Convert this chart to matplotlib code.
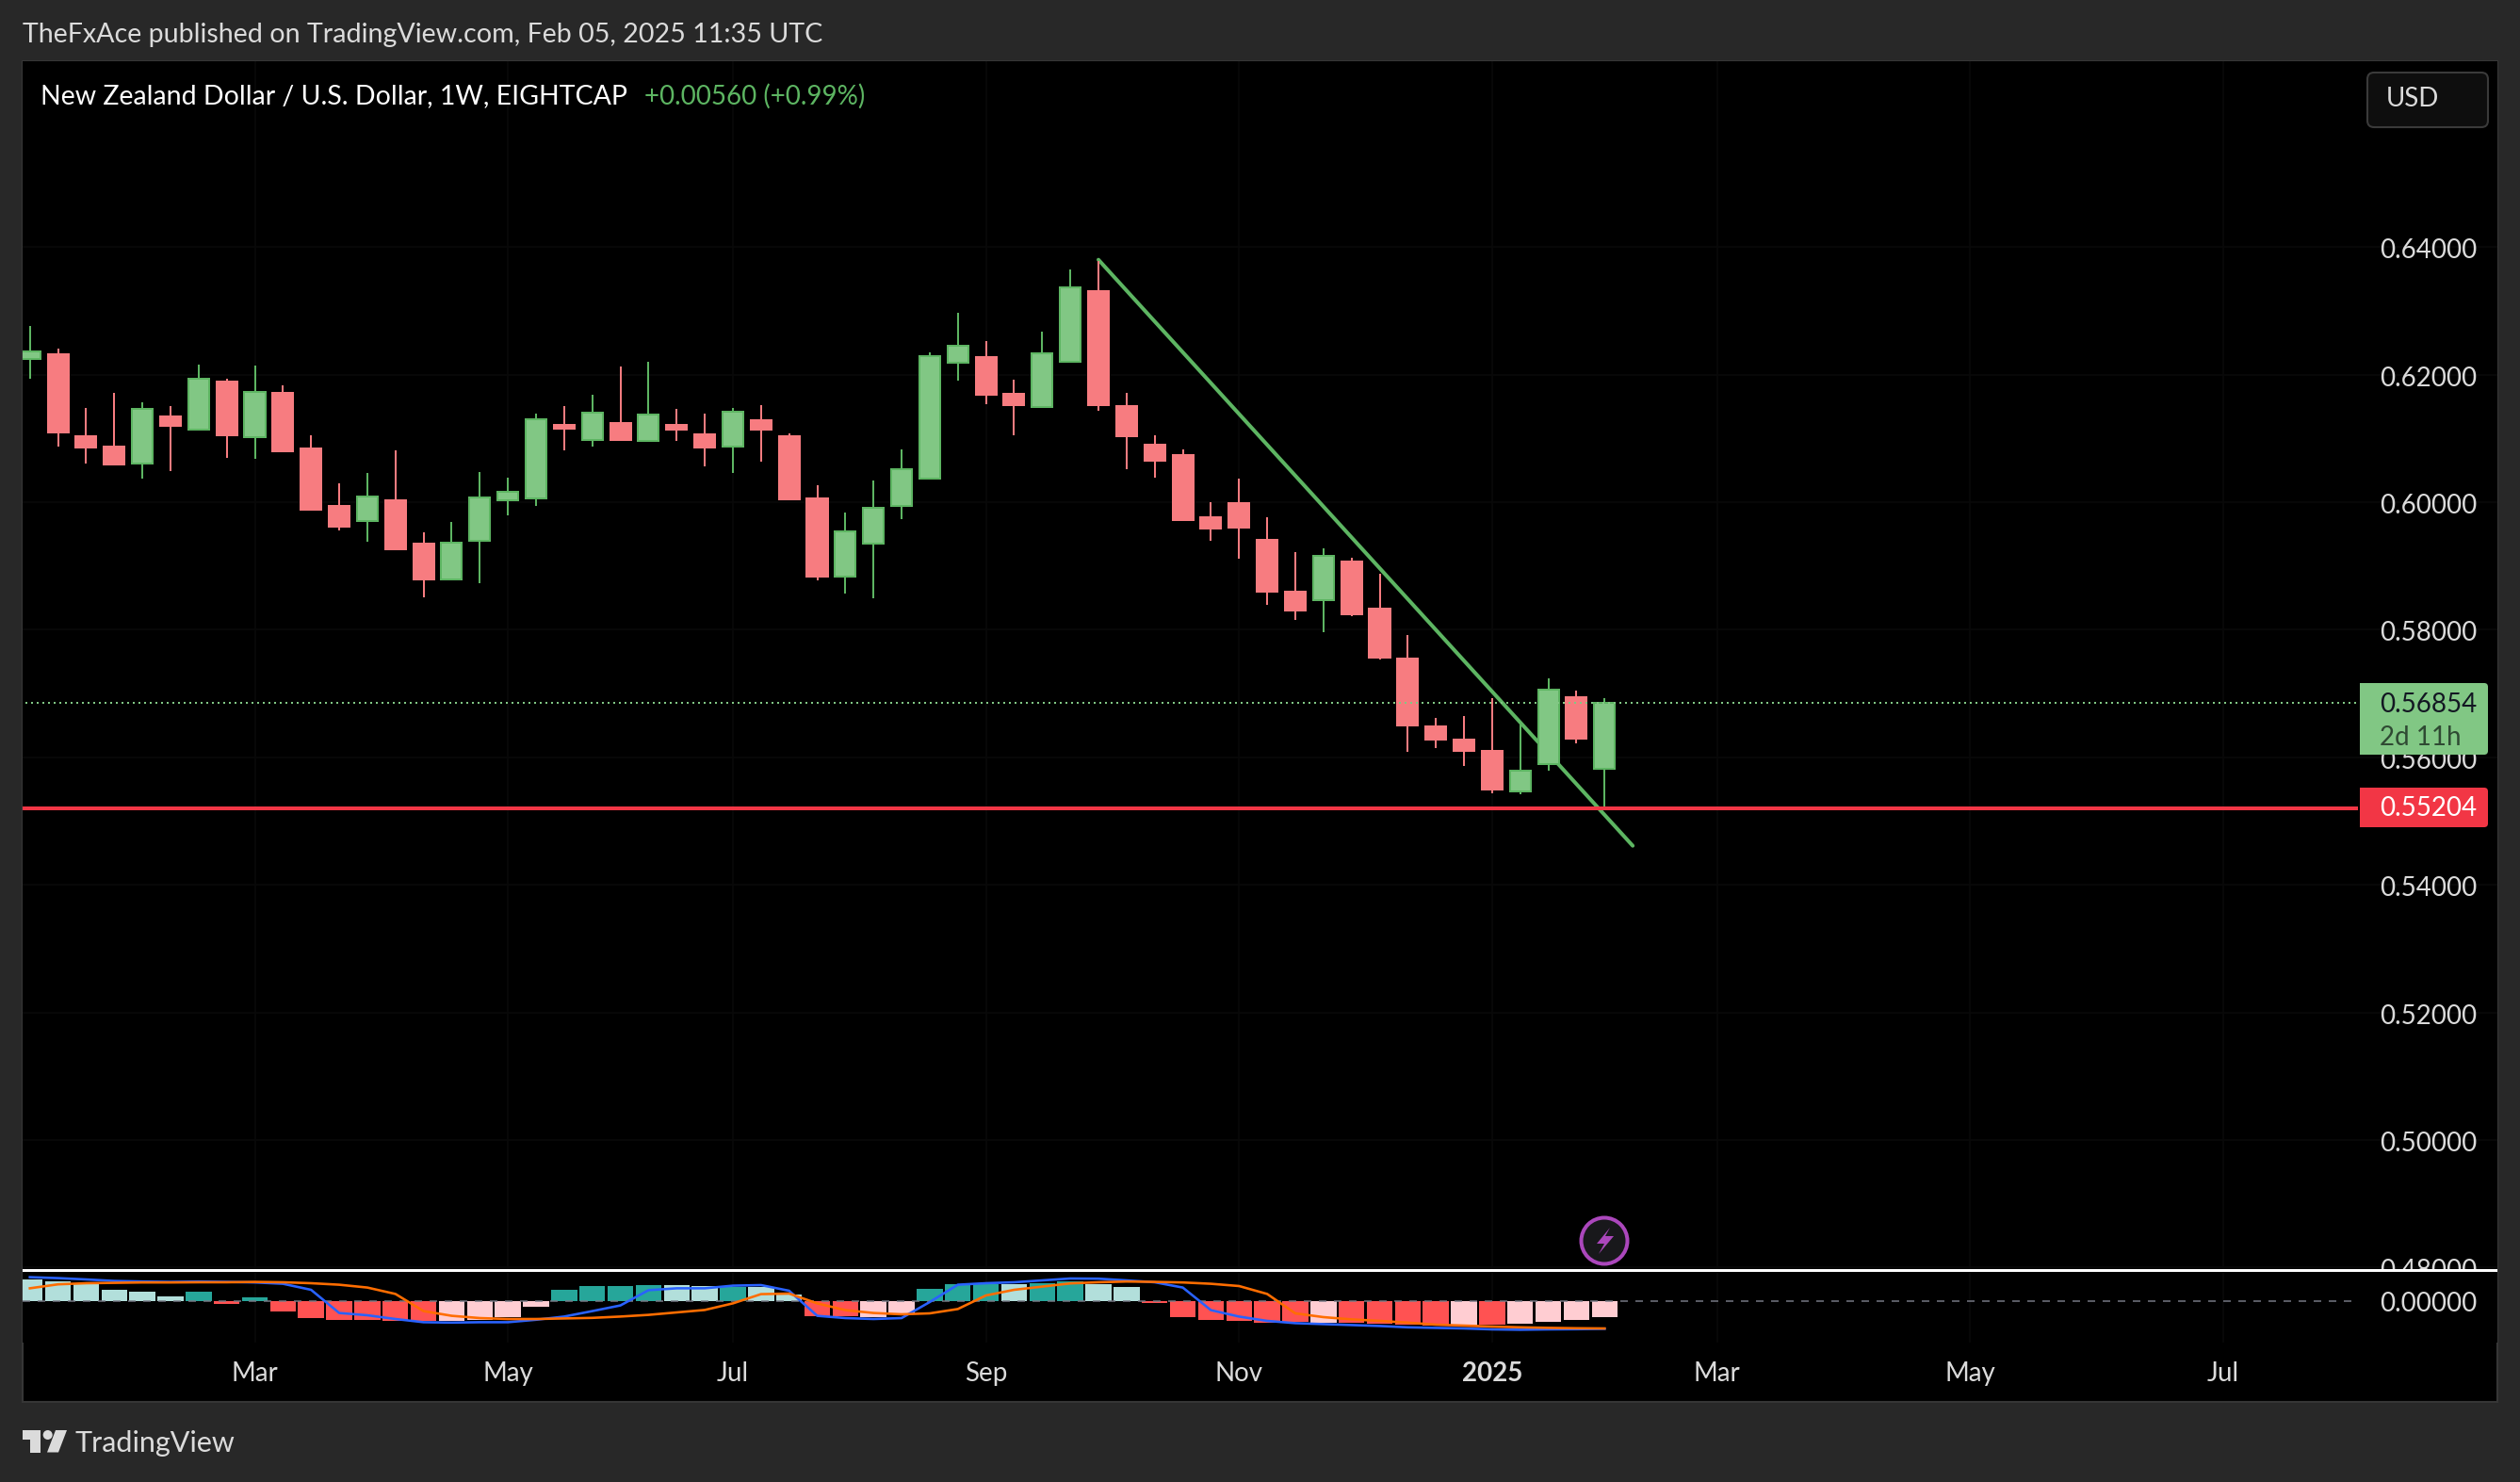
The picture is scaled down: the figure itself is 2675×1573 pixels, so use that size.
import matplotlib
matplotlib.use("Agg")
import matplotlib.pyplot as plt
from matplotlib.patches import Rectangle, FancyBboxPatch, Circle, Polygon
from matplotlib.transforms import ScaledTranslation

W, H = 2675, 1573
plt.rcParams['font.family'] = ['Lato', 'DejaVu Sans']

# ---- weekly candles, oldest to newest ----
opens = [.62245,.62319,.61034,.60871,.60605,.61344,.61137,.61890,.61019,.61713,.60842,.59940,.59704,.60029,.59350,.58788,.59394,.60029,.60059,.61211,.60974,.61240,.60960,
         .61211,.61063,.60871,.61285,.61034,.60059,.58833,.59350,.59940,.60369,.62186,.62274,.61698,.61491,.62201,.63308,.61506,.60901,.60738,.59763,.59985,.59409,.58596,
         .58463,.59069,.58330,.57547,.56484,.56277,.56100,.55465,.55893,.56942,.55819]
highs = [.62762,.62407,.61477,.61713,.61565,.61506,.62156,.61935,.62141,.61831,.61048,.60295,.60457,.60812,.59527,.59689,.60472,.60384,.61388,.61506,.61684,.62127,.62201,
         .61462,.61388,.61477,.61521,.61078,.60265,.59837,.60339,.60827,.62348,.62969,.62526,.61920,.62673,.63648,.63786,.61713,.61048,.60827,.59999,.60369,.59763,.59217,
         .59276,.59128,.58877,.57917,.56617,.56646,.56927,.56528,.57237,.57045,.56927]
lows = [.61935,.60871,.60605,.60576,.60369,.60487,.61137,.60694,.60679,.60797,.59881,.59556,.59379,.59261,.58508,.58788,.58729,.59793,.59940,.60812,.60871,.60974,.60960,
        .60960,.60561,.60457,.60635,.60044,.58773,.58567,.58493,.59734,.60354,.61905,.61536,.61048,.61491,.62201,.61432,.60517,.60384,.59719,.59394,.59113,.58389,.58153,
        .57961,.58212,.57533,.56085,.56144,.55863,.55435,.55420,.55789,.56218,.55169]
closes = [.62363,.61093,.60856,.60590,.61462,.61196,.61935,.61048,.61728,.60797,.59881,.59615,.60088,.59261,.58788,.59364,.60073,.60162,.61299,.61152,.61403,.60974,.61373,
          .61137,.60856,.61418,.61137,.60044,.58833,.59542,.59911,.60517,.62289,.62452,.61684,.61521,.62333,.63368,.61521,.61034,.60649,.59719,.59586,.59601,.58596,.58301,
          .59158,.58242,.57562,.56499,.56277,.56100,.55494,.55789,.57060,.56292,.56853]

# ---- MACD pane ----
hist = [.0117,.0105,.0088,.0060,.0050,.0025,.0050,-.0015,.0020,-.0055,-.0090,-.0100,-.0100,-.0105,-.0105,-.0107,-.0100,-.0085,-.0030,
        .0060,.0080,.0080,.0085,.0085,.0080,.0077,.0075,.0035,-.0080,-.0080,-.0085,-.0065,.0065,.0090,.0090,.0090,.0095,.0105,.0090,.0075,
        -.0010,-.0085,-.0100,-.0105,-.0115,-.0112,-.0115,-.0115,-.0120,-.0125,-.0130,-.0130,-.0125,-.0120,-.0110,-.0100,-.0085]
hist_kind = list("lllllldrdrrrrrrppppddddlldllrrppdddlddllrrrrrrprrrrprpppp")
macd = [.0127,.0122,.0115,.0107,.0104,.0102,.0104,.0102,.0099,.0092,.0060,-.0063,-.0075,-.0095,-.0112,-.0114,-.0112,-.0112,-.0099,
        -.0082,-.0053,-.0023,.0058,.0068,.0068,.0082,.0085,.0055,-.0078,-.0090,-.0095,-.0090,-.0005,.0087,.0095,.0100,.0110,.0120,.0119,
        .0110,.0100,.0072,-.0048,-.0082,-.0105,-.0117,-.0122,-.0127,-.0132,-.0139,-.0142,-.0145,-.0150,-.0152,-.0150,-.0149,-.0147]
signal = [.0068,.0089,.0095,.0097,.0099,.0099,.0100,.0100,.0102,.0100,.0095,.0087,.0072,.0038,-.0053,-.0078,-.0090,-.0095,-.0095,
          -.0092,-.0089,-.0082,-.0073,-.0060,-.0047,-.0012,.0037,.0040,-.0012,-.0048,-.0063,-.0070,-.0065,-.0042,.0030,.0060,.0077,.0094,.0100,
          .0104,.0102,.0099,.0092,.0080,.0038,-.0065,-.0085,-.0097,-.0105,-.0114,-.0125,-.0130,-.0135,-.0139,-.0142,-.0144,-.0145]

# ---- axes labels and levels ----
price_ticks = [0.48, 0.50, 0.52, 0.54, 0.56, 0.58, 0.60, 0.62, 0.64]
month_pos = [8, 17, 25, 34, 43, 52, 60, 69, 78]
month_labels = ["Mar", "May", "Jul", "Sep", "Nov", "2025", "Mar", "May", "Jul"]
last_price = 0.56854
level_price = 0.55204
trend_x = [38, 57]
trend_y = [0.63801, 0.54613]

BG, GREEN, GREEN_EDGE, RED, LEVEL = "#282828", "#81C784", "#5DB562", "#F77C80", "#F23645"
TXT = "#DBDBDB"
HIST_COL = {"l": "#B2DFDB", "d": "#26A69A", "r": "#FF5252", "p": "#FFCDD2"}
GRID = "#090909"
px = 0.72  # points per pixel at dpi 100


def rect(x0, y0, x1, y1):
    return [x0 / W, 1 - y1 / H, (x1 - x0) / W, (y1 - y0) / H]


fig = plt.figure(figsize=(W / 100, H / 100), dpi=100, facecolor=BG)
L, R = 24, 2651
xlim = ((L - 31.7) / 29.85, (R - 31.7) / 29.85)
plot_end = (2503 - 31.7) / 29.85
nudge = ScaledTranslation(0, -1.5 / 100, fig.dpi_scale_trans)

# black chart canvas
fig.add_artist(Rectangle((L / W, 1 - 1488 / H), (R - L) / W, (1488 - 65) / H, transform=fig.transFigure,
                         facecolor="black", edgecolor="#363636", linewidth=1.5, zorder=-5))

# ---- main pane ----
ax = fig.add_axes(rect(L, 65, R, 1347), facecolor="black")
ax.set_xlim(*xlim)
ax.set_ylim(0.60 - (1347 - 533) / 6770, 0.60 + (533 - 65) / 6770)
ax.set_axisbelow(True)
for s in ax.spines.values():
    s.set_visible(False)
ax.set_xticks(month_pos)
ax.set_xticklabels([])
ax.yaxis.tick_right()
ax.set_yticks(price_ticks)
ax.set_yticklabels([f"{v:.5f}" for v in price_ticks])
ax.tick_params(axis='x', length=0)
ax.tick_params(axis='y', length=0, pad=-(125 * px), labelsize=20, labelcolor=TXT)
ax.grid(True, color=GRID, linewidth=1.2)
for lab in ax.get_yticklabels():
    lab.set_transform(lab.get_transform() + nudge)
    lab.set_clip_on(True)
    lab.set_clip_box(ax.bbox)

ax.plot(trend_x, trend_y, color=GREEN_EDGE, lw=4 * px, solid_capstyle="round", zorder=2)
idx = list(range(len(opens)))
up = [c >= o for o, c in zip(opens, closes)]
ax.vlines(idx, lows, highs, colors=[GREEN_EDGE if u else RED for u in up], linewidth=2 * px, zorder=3)
ax.bar(idx, [abs(c - o) for o, c in zip(opens, closes)], bottom=[min(o, c) for o, c in zip(opens, closes)],
       width=0.74, color=[GREEN if u else RED for u in up],
       edgecolor=[GREEN_EDGE if u else RED for u in up], linewidth=2 * px, zorder=4)
ax.plot([xlim[0], plot_end], [level_price] * 2, color=LEVEL, lw=4 * px, solid_capstyle="butt", zorder=5)
ax.plot([xlim[0] + 0.1, plot_end], [last_price] * 2, color=GREEN, lw=2 * px, linestyle=(0, (1, 2)), zorder=6)

# ---- MACD pane ----
mx = fig.add_axes(rect(L, 1350, R, 1425), facecolor="black")
mx.set_xlim(*xlim)
mx.set_ylim(-(1425 - 1381) * 0.0005, (1381 - 1350) * 0.0005)
mx.set_axisbelow(True)
for s in mx.spines.values():
    s.set_visible(False)
mx.yaxis.tick_right()
mx.set_yticks([0.0])
mx.set_yticklabels(["0.00000"])
mx.tick_params(axis='y', length=0, pad=-(125 * px), labelsize=20, labelcolor=TXT)
mx.set_xticks(month_pos)
mx.set_xticklabels(month_labels)
mx.tick_params(axis='x', length=0, pad=14.6, labelsize=20, labelcolor=TXT)
for lab, name in zip(mx.get_xticklabels(), month_labels):
    if name == "2025":
        lab.set_fontweight("bold")
mx.grid(True, axis='x', color=GRID, linewidth=1.2)
mx.bar(idx, hist, width=0.92, color=[HIST_COL[k] for k in hist_kind], zorder=2)
mx.plot([xlim[0], plot_end], [0, 0], color="#787B86", alpha=0.75, lw=2 * px, linestyle=(0, (4, 4)), zorder=3)
mx.plot(idx, macd, color="#2962FF", lw=2.6 * px, zorder=4, solid_joinstyle="round")
mx.plot(idx, signal, color="#FF6D00", lw=2.6 * px, zorder=5, solid_joinstyle="round")

# ---- page furniture in pixel coordinates ----
ov = fig.add_axes([0, 0, 1, 1], facecolor="none")
ov.set_xlim(0, W)
ov.set_ylim(H, 0)
ov.axis("off")
ov.add_patch(Rectangle((L, 1347), R - L, 2.6, facecolor="white", edgecolor="none"))

ov.text(24, 37, "TheFxAce published on TradingView.com, Feb 05, 2025 11:35 UTC", color=TXT, fontsize=20.6, va="center")
ov.text(43, 102.5, "New Zealand Dollar / U.S. Dollar, 1W, EIGHTCAP", color="white", fontsize=20.5, va="center")
ov.text(684, 102.5, "+0.00560 (+0.99%)", color=GREEN_EDGE, fontsize=20, va="center")

ov.add_patch(FancyBboxPatch((2513, 77), 128, 58, boxstyle="round,pad=0,rounding_size=7",
                            facecolor="#0E0E0E", edgecolor="#3A3A3A", linewidth=1.5))
ov.text(2561, 105, "USD", color=TXT, fontsize=20, ha="center", va="center")

ov.add_patch(FancyBboxPatch((2505, 725), 136, 76, boxstyle="round,pad=0,rounding_size=4", facecolor=GREEN, edgecolor="none"))
ov.add_patch(Rectangle((2505, 725), 12, 76, facecolor=GREEN, edgecolor="none"))
ov.text(2526, 748, f"{last_price:.5f}", color="#131722", fontsize=20, va="center")
ov.text(2526, 783, "2d 11h", color="#2F4A33", fontsize=20, va="center")
ov.add_patch(FancyBboxPatch((2505, 836), 136, 42, boxstyle="round,pad=0,rounding_size=4", facecolor=LEVEL, edgecolor="none"))
ov.add_patch(Rectangle((2505, 836), 12, 42, facecolor=LEVEL, edgecolor="none"))
ov.text(2526, 857.5, f"{level_price:.5f}", color="white", fontsize=20, va="center")

# alert icon
ov.add_patch(Circle((1703, 1317), 24.5, facecolor="#18181B", edgecolor="#AB47BC", linewidth=4 * px))
ov.add_patch(Polygon([(1709, 1303), (1695, 1320), (1703, 1320), (1697, 1331), (1713, 1312), (1704, 1312)],
                     closed=True, facecolor="#AB47BC", edgecolor="none"))

# TradingView wordmark
ov.add_patch(Polygon([(24, 1518), (43, 1518), (43, 1541.5), (32, 1541.5), (32, 1528), (24, 1528)], closed=True,
                     facecolor=TXT, edgecolor="none"))
ov.add_patch(Circle((50.7, 1523), 5, facecolor=TXT, edgecolor="none"))
ov.add_patch(Polygon([(59, 1518), (71, 1518), (62, 1541.5), (50, 1541.5)], closed=True, facecolor=TXT, edgecolor="none"))
ov.text(79, 1532, "TradingView", color=TXT, fontsize=22, va="center")

fig.savefig("out.png", dpi=100, facecolor=BG)
